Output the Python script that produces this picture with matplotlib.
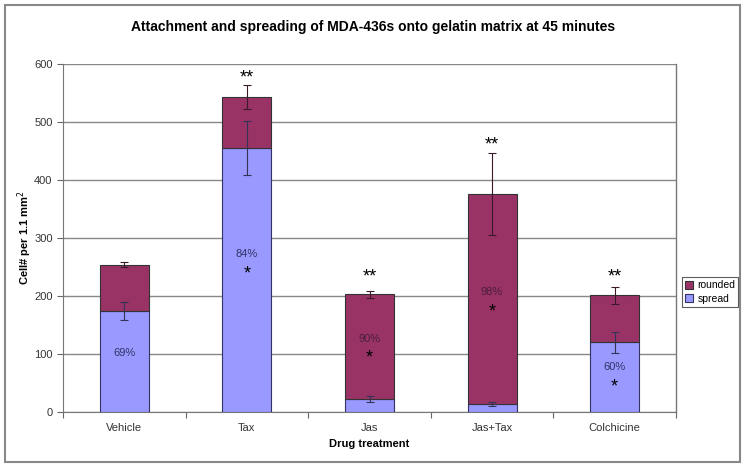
import matplotlib
matplotlib.use("Agg")
import matplotlib.pyplot as plt
import matplotlib.transforms as mtransforms
from matplotlib.patches import Rectangle
import numpy as np

plt.rcParams['font.family'] = ['Liberation Sans', 'DejaVu Sans']

categories = ["Vehicle", "Tax", "Jas", "Jas+Tax", "Colchicine"]
spread = [174, 455, 22, 14, 120]
spread_err = [15, 46, 5, 4, 18]
total = [254, 543, 203, 376, 201]
total_err = [4, 20, 6, 70, 14]
rounded = [t - s for t, s in zip(total, spread)]
pct_labels = ["69%", "84%", "90%", "98%", "60%"]
pct_y = [102, 272, 126, 207, 78]
star_labels = ["", "*", "*", "*", "*"]
star_y = [0, 245, 100, 179, 50]
top_stars = ["", "**", "**", "**", "**"]
top_star_y = [0, 582, 240, 468, 240]
yticks = [0, 100, 200, 300, 400, 500, 600]

W, H = 747, 468
fig = plt.figure(figsize=(W / 100, H / 100), dpi=100)
ax = fig.add_axes([63 / W, (H - 412) / H, (676 - 63) / W, (412 - 64) / H])

x = np.arange(len(categories))
bw = 0.40
c_spread = "#9999FF"
c_round = "#993366"
ax.bar(x, spread, bw, color=c_spread, edgecolor="#333366", linewidth=0.8, label="spread", zorder=2)
ax.bar(x, rounded, bw, bottom=spread, color=c_round, edgecolor="#333333", linewidth=0.8, label="rounded", zorder=2)
ax.errorbar(x, spread, yerr=spread_err, fmt="none", ecolor="#333355", elinewidth=0.8, capsize=3, capthick=0.8, zorder=3)
ax.errorbar(x, total, yerr=total_err, fmt="none", ecolor="#3a1a2a", elinewidth=0.8, capsize=3, capthick=0.8, zorder=3)

# small pixel offset so the asterisk glyph sits visually on its value
star_off = -4
star_tr = ax.transData + mtransforms.ScaledTranslation(0, star_off / 100, fig.dpi_scale_trans)
for i in range(len(categories)):
    txtcol = "#333366" if i not in (2, 3) else "#4a1f3a"
    ax.text(x[i], pct_y[i], pct_labels[i], ha="center", va="center", fontsize=8, color=txtcol, zorder=4)
    if star_labels[i]:
        ax.text(x[i], star_y[i], star_labels[i], ha="center", va="center", fontsize=13,
                color="black", zorder=4, transform=star_tr)
    if top_stars[i]:
        ax.text(x[i], top_star_y[i], top_stars[i], ha="center", va="center", fontsize=13,
                color="black", zorder=4, transform=star_tr)

ax.set_xlim(-0.5, len(categories) - 0.5)
ax.set_ylim(0, 600)
ax.set_yticks(yticks)
ax.set_yticklabels([str(v) for v in yticks], fontsize=8, color="#333333")
ax.set_xticks(x)
ax.set_xticklabels(categories, fontsize=8, color="#333333")
ax.set_xticks(np.arange(-0.5, len(categories)), minor=True)
ax.tick_params(axis="x", which="major", length=0, pad=8)
ax.tick_params(axis="x", which="minor", length=4, width=0.8, color="#666666", direction="out")
ax.tick_params(axis="y", length=4, width=0.8, color="#666666", direction="out")
ax.yaxis.grid(True, color="#888888", linewidth=1.0, zorder=0)
ax.set_axisbelow(True)
for side in ["top", "right"]:
    ax.spines[side].set_visible(False)
ax.spines["left"].set_color("#777777")
ax.spines["bottom"].set_color("#777777")
ax.plot([1, 1], [0, 1], transform=ax.transAxes, color="#777777", linewidth=1.0, clip_on=False)

ax.set_xlabel("Drug treatment", fontsize=8, fontweight="bold", labelpad=4)
ax.set_ylabel("Cell# per 1.1 mm$^2$", fontsize=8, fontweight="bold")
ax.yaxis.set_label_coords(-29 / (676 - 63), 0.5)
fig.text(373 / W, 1 - 27 / H, "Attachment and spreading of MDA-436s onto gelatin matrix at 45 minutes",
         ha="center", va="center", fontsize=10, fontweight="bold")

handles, labels = ax.get_legend_handles_labels()
leg = fig.legend(handles[::-1], labels[::-1], loc="center", bbox_to_anchor=(710 / W, 1 - 292 / H),
                 fontsize=7.5, frameon=True, fancybox=False, edgecolor="#333333",
                 handlelength=0.8, handleheight=0.8, handletextpad=0.4, borderpad=0.3, labelspacing=0.3)
leg.get_frame().set_linewidth(0.8)

fig.patches.append(Rectangle((5 / W, 1 - 462 / H), 735 / W, 457 / H, transform=fig.transFigure,
                             fill=False, edgecolor="#888888", linewidth=1.5))

fig.savefig("out.png", dpi=100)
